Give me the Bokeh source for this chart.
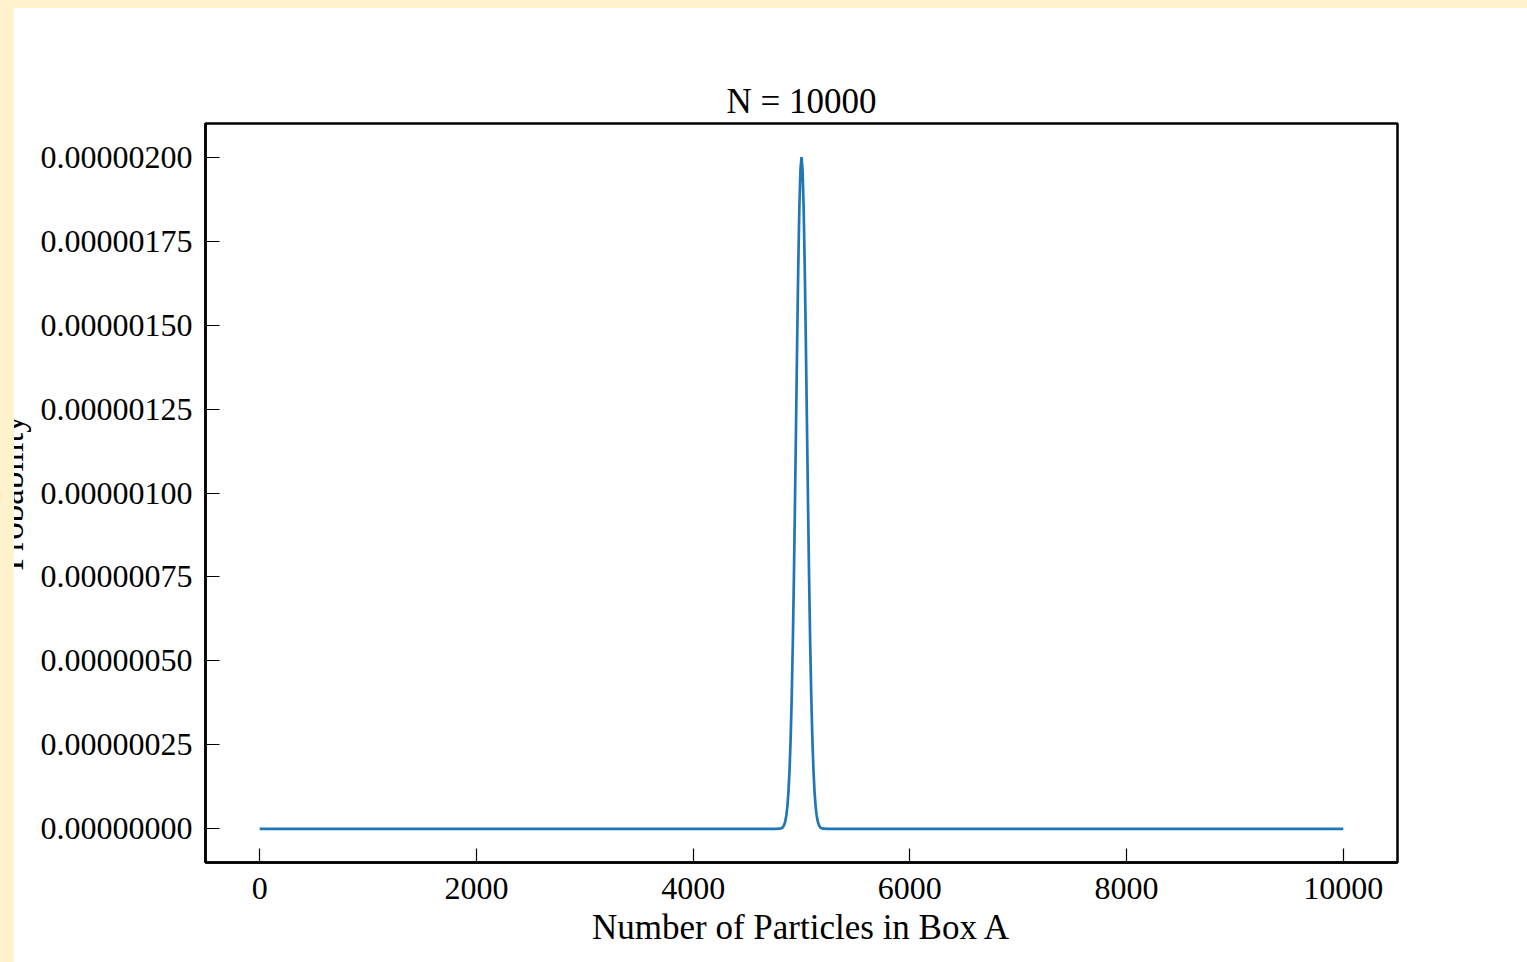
from bokeh.plotting import figure
from bokeh.models import FixedTicker, PrintfTickFormatter, Range1d, InlineStyleSheet
from bokeh.embed import file_html
from bokeh.resources import INLINE

# ---- data ----
particles = [0, 2000, 4000, 4750, 4800,
             4820, 4830, 4840, 4850, 4860, 4870, 4880, 4890, 4900, 4910,
             4920, 4930, 4940, 4950, 4960, 4970, 4980, 4990, 5000, 5010,
             5020, 5030, 5040, 5050, 5060, 5070, 5080, 5090, 5100, 5110,
             5120, 5130, 5140, 5150, 5160, 5170, 5180,
             5200, 5250, 6000, 8000, 10000]
probability = [0.0, 0.0, 0.0, 2e-11, 7e-10,
               3.0e-9, 6.0e-9, 1.2e-8, 2.2e-8, 4.0e-8, 6.8e-8, 1.12e-7, 1.78e-7, 2.71e-7, 3.96e-7,
               5.56e-7, 7.50e-7, 9.74e-7, 1.213e-6, 1.452e-6, 1.671e-6, 1.846e-6, 1.960e-6, 2.000e-6, 1.960e-6,
               1.846e-6, 1.671e-6, 1.452e-6, 1.213e-6, 9.74e-7, 7.50e-7, 5.56e-7, 3.96e-7, 2.71e-7, 1.78e-7,
               1.12e-7, 6.8e-8, 4.0e-8, 2.2e-8, 1.2e-8, 6.0e-9, 3.0e-9,
               7e-10, 2e-11, 0.0, 0.0, 0.0]

x_ticks = [0, 2000, 4000, 6000, 8000, 10000]
y_ticks = [0.0, 2.5e-7, 5.0e-7, 7.5e-7, 1.0e-6, 1.25e-6, 1.5e-6, 1.75e-6, 2.0e-6]

title_text = "N = 10000"
x_label = "Number of Particles in Box A"
y_label = "Probability"

FONT = "Liberation Serif"
CREAM = "#fff2cc"

p = figure(width=1539, height=954, output_backend="svg", toolbar_location=None,
           x_range=Range1d(-500, 10500), y_range=Range1d(-1.0e-7, 2.1e-6),
           min_border_left=217, min_border_right=130, min_border_top=115, min_border_bottom=100,
           title=title_text)

p.line(particles, probability, line_color="#1f77b4", line_width=2.7)

p.title.align = "center"
p.title.text_font = FONT
p.title.text_font_size = "35px"
p.title.text_font_style = "normal"
p.title.text_color = "black"
p.title.standoff = 5

p.xgrid.visible = False
p.ygrid.visible = False
p.background_fill_color = "white"
p.border_fill_color = "white"
p.outline_line_color = "black"
p.outline_line_width = 2.5
p.outline_line_alpha = 1.0

for ax in (p.xaxis[0], p.yaxis[0]):
    ax.axis_line_color = "black"
    ax.axis_line_width = 2.5
    ax.major_tick_in = 14
    ax.major_tick_out = 0
    ax.major_tick_line_color = "black"
    ax.major_tick_line_width = 1.2
    ax.minor_tick_line_color = None
    ax.major_label_text_font = FONT
    ax.major_label_text_font_size = "32px"
    ax.major_label_text_color = "black"
    ax.axis_label_text_font = FONT
    ax.axis_label_text_font_size = "35px"
    ax.axis_label_text_font_style = "normal"
    ax.axis_label_text_color = "black"

p.xaxis.ticker = FixedTicker(ticks=x_ticks)
p.xaxis.formatter = PrintfTickFormatter(format="%d")
p.xaxis.major_label_standoff = 15
p.xaxis.axis_label = x_label
p.xaxis.axis_label_standoff = 6

p.yaxis.ticker = FixedTicker(ticks=y_ticks)
p.yaxis.formatter = PrintfTickFormatter(format="%.8f")
p.yaxis.major_label_standoff = 13
p.yaxis.axis_label = y_label
p.yaxis.axis_label_standoff = 7

# page look: cream strip on the top and left edge, the left one hiding part of the y label
p.styles = {"margin-left": "-12px", "margin-top": "8px", "box-shadow": "0 -8px 0 0 " + CREAM}
p.stylesheets = [InlineStyleSheet(css=(
    ":host { position: relative; }"
    ":host::after { content: ''; position: absolute; left: 0; top: -8px; width: 26px;"
    " height: calc(100% + 8px); background: " + CREAM + "; z-index: 1000; pointer-events: none; }"
))]

open("out.html", "w").write(file_html(p, INLINE))
